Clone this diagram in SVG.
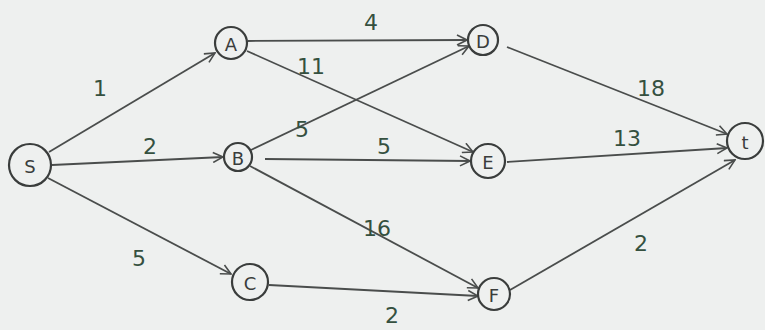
<svg xmlns="http://www.w3.org/2000/svg" width="765" height="330" viewBox="0 0 765 330">
<defs>
<style>
.bg{fill:#eef0ef}
.node circle{fill:none;stroke:#3a3d3c;stroke-width:2.2}
.node text{font-family:"DejaVu Sans",sans-serif;font-size:18px;fill:#3a3d3c;text-anchor:middle;dominant-baseline:central}
.edge{stroke:#4a4d4c;stroke-width:1.8;fill:none;marker-end:url(#arr)}
.lbl{font-family:"DejaVu Sans",sans-serif;font-size:22px;fill:#35503f;text-anchor:middle;dominant-baseline:central}
</style>
<marker id="arr" viewBox="0 0 12 12" refX="11" refY="6" markerWidth="12" markerHeight="12" markerUnits="userSpaceOnUse" orient="auto">
<path d="M1,1 L11,6 L1,11" fill="none" stroke="#4a4d4c" stroke-width="1.6"/>
</marker>
</defs>
<rect class="bg" x="0" y="0" width="765" height="330"/>
<g id="connectors">
<line class="edge" x1="49" y1="152" x2="215" y2="53"/>
<line class="edge" x1="52" y1="165" x2="223" y2="157"/>
<line class="edge" x1="48" y1="178" x2="231" y2="274"/>
<line class="edge" x1="248" y1="41" x2="467" y2="40"/>
<line class="edge" x1="247" y1="51" x2="473" y2="152"/>
<line class="edge" x1="251" y1="150" x2="469" y2="46"/>
<line class="edge" x1="265" y1="159" x2="470" y2="161"/>
<line class="edge" x1="250" y1="166" x2="478" y2="288"/>
<line class="edge" x1="269" y1="285" x2="478" y2="296"/>
<line class="edge" x1="507" y1="47" x2="727" y2="134"/>
<line class="edge" x1="507" y1="162" x2="727" y2="148"/>
<line class="edge" x1="510" y1="290" x2="735" y2="160"/>
<text class="lbl" x="100" y="88">1</text>
<text class="lbl" x="150" y="146">2</text>
<text class="lbl" x="139" y="258">5</text>
<text class="lbl" x="371" y="22">4</text>
<text class="lbl" x="311" y="66">11</text>
<text class="lbl" x="302" y="129">5</text>
<text class="lbl" x="384" y="146">5</text>
<text class="lbl" x="377" y="228">16</text>
<text class="lbl" x="392" y="315">2</text>
<text class="lbl" x="651" y="88">18</text>
<text class="lbl" x="627" y="138">13</text>
<text class="lbl" x="641" y="243">2</text>
</g>
<g id="node-S" class="node"><circle cx="30" cy="165" r="21"/><text x="30" y="166">S</text></g>
<g id="node-A" class="node"><circle cx="231" cy="43" r="16"/><text x="231" y="44">A</text></g>
<g id="node-B" class="node"><circle cx="238" cy="157" r="14"/><text x="238" y="158">B</text></g>
<g id="node-C" class="node"><circle cx="250" cy="282" r="18"/><text x="250" y="283">C</text></g>
<g id="node-D" class="node"><circle cx="483" cy="40" r="15"/><text x="483" y="41">D</text></g>
<g id="node-E" class="node"><circle cx="488" cy="161" r="17"/><text x="488" y="162">E</text></g>
<g id="node-F" class="node"><circle cx="494" cy="294" r="16"/><text x="494" y="295">F</text></g>
<g id="node-t" class="node"><circle cx="745" cy="141" r="18"/><text x="745" y="142">t</text></g>
</svg>
